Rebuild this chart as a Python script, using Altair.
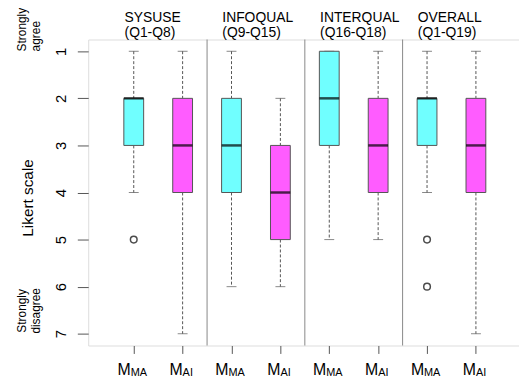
import altair as alt
import pandas as pd

# ---- data ----
groups = ["SYSUSE", "INFOQUAL", "INTERQUAL", "OVERALL"]
group_ranges = ["(Q1-Q8)", "(Q9-Q15)", "(Q16-Q18)", "(Q1-Q19)"]
models = ["MA", "AI", "MA", "AI", "MA", "AI", "MA", "AI"]
positions = [1, 2, 3, 4, 5, 6, 7, 8]
lower_whisker = [1, 1, 1, 2, 1, 1, 1, 1]
q1 = [2, 2, 2, 3, 1, 2, 2, 2]
median = [2, 3, 3, 4, 2, 3, 2, 3]
q3 = [3, 4, 4, 5, 3, 4, 3, 4]
upper_whisker = [4, 7, 6, 6, 5, 5, 4, 7]
outlier_pos = [1, 7, 7]
outlier_val = [5, 5, 6]
y_ticks = [1, 2, 3, 4, 5, 6, 7]
divider_pos = [2.5, 4.5, 6.5]

W, H = 435, 309
CYAN = "#70FFFF"
MAGENTA = "#FF5CFF"
EDGE = "#555555"
FONT = "Liberation Sans"

boxes = pd.DataFrame({"pos": positions, "model": models, "lw": lower_whisker,
                      "q1": q1, "med": median, "q3": q3, "uw": upper_whisker})
caps = pd.DataFrame({"pos": positions * 2, "v": lower_whisker + upper_whisker})
outs = pd.DataFrame({"pos": outlier_pos, "v": outlier_val})
divs = pd.DataFrame({"d": divider_pos})
titles = pd.DataFrame({"c": [2 * i + 1.5 for i in range(4)], "t1": groups, "t2": group_ranges})
labels = pd.DataFrame({"pos": positions, "model": models})

xs = alt.Scale(domain=[0.17, 8.78], nice=False, zero=False)
ys = alt.Scale(domain=[0.75, 7.25], nice=False, zero=False, reverse=True)

x_axis = alt.Axis(values=positions, labels=False, tickSize=8, tickColor=EDGE,
                  domain=False, grid=False, title=None)
y_axis = alt.Axis(values=y_ticks, tickSize=11, tickColor=EDGE, domain=False, grid=False,
                  title=None, labelAngle=270, labelAlign="center", labelBaseline="alphabetic",
                  labelPadding=12, labelFontSize=15, labelFont=FONT, labelColor="black")

X = lambda f: alt.X(f"{f}:Q", scale=xs, axis=x_axis)
Y = lambda f: alt.Y(f"{f}:Q", scale=ys, axis=y_axis)

base = alt.Chart(boxes)

whisk_lo = base.mark_rule(color=EDGE, strokeDash=[3, 2], strokeWidth=1).encode(
    x=X("pos"), y=Y("lw"), y2="q1:Q")
whisk_hi = base.mark_rule(color=EDGE, strokeDash=[3, 2], strokeWidth=1).encode(
    x=X("pos"), y=Y("q3"), y2="uw:Q")
cap = alt.Chart(caps).mark_tick(orient="horizontal", size=10, thickness=1, color=EDGE).encode(
    x=X("pos"), y=Y("v"))
box = base.mark_bar(width=20, stroke=EDGE, strokeWidth=1).encode(
    x=X("pos"), y=Y("q1"), y2="q3:Q",
    fill=alt.Fill("model:N", scale=alt.Scale(domain=["MA", "AI"], range=[CYAN, MAGENTA]), legend=None))
med = base.mark_tick(orient="horizontal", size=20, thickness=2.5, color="black").encode(
    x=X("pos"), y=Y("med"))
out = alt.Chart(outs).mark_point(shape="circle", size=45, filled=False, color="black",
                                 strokeWidth=1.5).encode(x=X("pos"), y=Y("v"))
div = alt.Chart(divs).mark_rule(color="#888888", strokeWidth=1).encode(
    x=X("d"), y=alt.value(0), y2=alt.value(H))

t1 = alt.Chart(titles).mark_text(align="left", baseline="alphabetic", dx=-34, fontSize=14,
                                 font=FONT, color="black").encode(
    x=X("c"), y=alt.value(-18), text="t1:N")
t2 = alt.Chart(titles).mark_text(align="left", baseline="alphabetic", dx=-34, fontSize=14,
                                 font=FONT, color="black").encode(
    x=X("c"), y=alt.value(-3), text="t2:N")

lab_ma = alt.Chart(labels).transform_filter("datum.model == 'MA'")
lab_ai = alt.Chart(labels).transform_filter("datum.model == 'AI'")
m_ma = lab_ma.mark_text(align="right", baseline="alphabetic", dx=-3, fontSize=16, font=FONT,
                        color="black", text="M").encode(x=X("pos"), y=alt.value(H + 30))
s_ma = lab_ma.mark_text(align="left", baseline="alphabetic", dx=-3, fontSize=11, font=FONT,
                        color="black").encode(x=X("pos"), y=alt.value(H + 31), text="model:N")
m_ai = lab_ai.mark_text(align="right", baseline="alphabetic", dx=0, fontSize=16, font=FONT,
                        color="black", text="M").encode(x=X("pos"), y=alt.value(H + 30))
s_ai = lab_ai.mark_text(align="left", baseline="alphabetic", dx=0, fontSize=11, font=FONT,
                        color="black").encode(x=X("pos"), y=alt.value(H + 31), text="model:N")

def side_text(txt, x, y, align, size):
    return alt.Chart(pd.DataFrame({"t": [txt]})).mark_text(
        angle=270, align=align, baseline="middle", fontSize=size, font=FONT, color="black"
    ).encode(x=alt.value(x), y=alt.value(y), text="t:N")

ylab = side_text("Likert scale", -61, 160, "center", 15.5)
sa1 = side_text("Strongly", -67, 12, "left", 12)
sa2 = side_text("agree", -53, 12, "left", 12)
sd1 = side_text("Strongly", -67, 296, "left", 12)
sd2 = side_text("disagree", -53, 297, "left", 12)

chart = alt.layer(div, whisk_lo, whisk_hi, cap, box, med, out, t1, t2,
                  m_ma, s_ma, m_ai, s_ai, ylab, sa1, sa2, sd1, sd2).properties(
    width=W, height=H, autosize=alt.AutoSizeParams(type="none"),
    padding={"left": 81, "top": 30, "right": 0, "bottom": 31}
).configure_view(stroke=EDGE, strokeWidth=1).configure(background="white")

chart.save("out.html", embed_options={"renderer": "svg", "actions": False})
